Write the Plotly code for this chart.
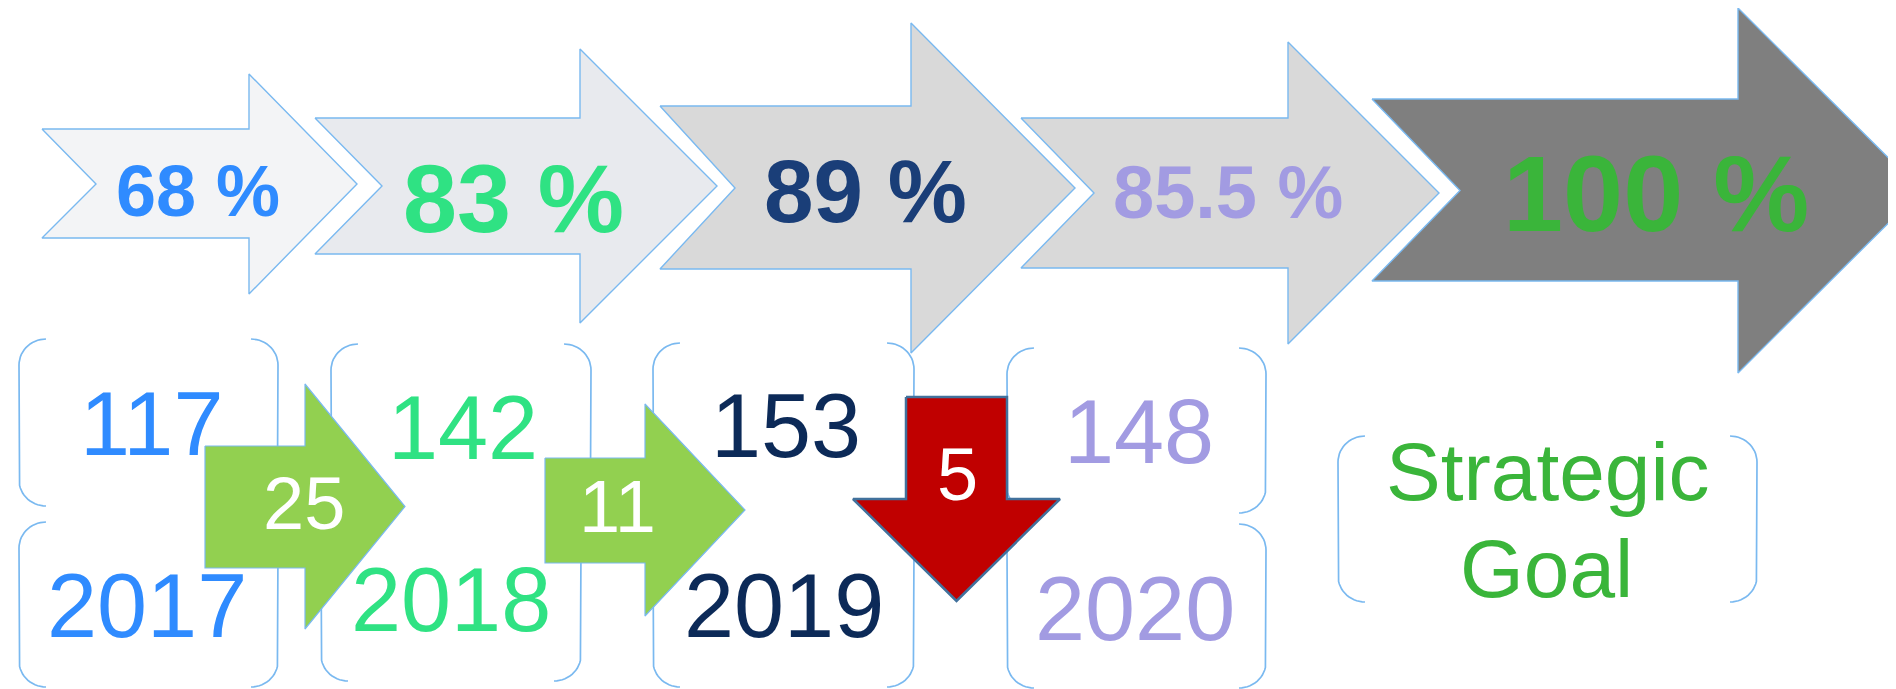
"""
Progress infographic - rates per year with counts and changes, drawn with Plotly
"""

import numpy as np
import plotly.graph_objects as go

# ─── data ───────────────────────────────────────
years = ["2017", "2018", "2019", "2020"]
counts = [117, 142, 153, 148]
changes = [25, 11, -5]
rates = [68, 83, 89, 85.5, 100]
goal_lines = ["Strategic", "Goal"]

# ─── styles ─────────────────────────────────────
stage_colors = ["#2F8BFF", "#2FE283", "#1A3E78", "#A29BE2", "#3AB53A"]
count_colors = ["#2F8BFF", "#2FE283", "#0C2A58", "#A29BE2"]
chevron_fills = ["#F3F4F6", "#E8EAEE", "#D9D9D9", "#D9D9D9", "#7F7F7F"]
edge_blue = "#7AB9F0"
FONT = "Liberation Sans, Arial, sans-serif"

W, H = 1896, 689
DX, DY = 7, 7  # small view offset of the layout grid

# chevron geometry: tail x, notch x, head x, tip x, body top, body bottom, head top, head bottom
chevrons = [
    (41, 95, 248, 356, 128, 237, 73, 293),
    (314, 381, 579, 716, 117, 253, 48, 322),
    (659, 734, 910, 1074, 105, 268, 22, 352),
    (1020, 1093, 1287, 1438, 117, 267, 41, 343),
    (1371, 1459, 1737, 1920, 98, 280, 7, 372),
]
rate_pos = [(197, 190, 72), (512, 197, 97), (864, 190, 89), (1227, 191, 74), (1655, 192, 108)]

# bracket boxes (left, right, top, bottom): counts row and years row
count_boxes = [(18, 277, 338, 505), (330, 590, 343, 512), (652, 913, 342, 507), (1006, 1265, 347, 512)]
year_boxes = [(18, 277, 521, 686), (320, 580, 520, 680), (652, 913, 521, 686), (1006, 1265, 523, 687)]
goal_box = (1337, 1756, 435, 601)
count_pos = [(150, 423), (462, 427), (785, 425), (1138, 431)]
year_pos = [(146, 605), (450, 599), (783, 605), (1134, 608)]
goal_pos = [(1547, 470), (1545, 567)]

# change arrows: right arrows (body left, head x, tip x, body top, body bottom, head top, head bottom)
up_arrows = [
    (204, 304, 404, 445, 567, 383, 628),
    (544, 644, 744, 457, 562, 403, 615),
]
# down arrow: body left, body right, body top, head y, head left, head right, tip y
down_arrow = (905, 1006, 396, 498, 852, 1059, 600)
change_pos = [(303, 502), (616, 505), (956, 473)]


def chevron_xy(g):
    xl, xn, xh, xt, bt, bb, ht, hb = g
    yc = (ht + hb) / 2
    xs = [xl, xh, xh, xt, xh, xh, xl, xn, xl]
    ys = [bt, bt, ht, yc, hb, bb, bb, yc, bt]
    return xs, ys


def right_arrow_xy(g):
    xl, xh, xt, bt, bb, ht, hb = g
    yc = (ht + hb) / 2
    xs = [xl, xh, xh, xt, xh, xh, xl, xl]
    ys = [bt, bt, ht, yc, hb, bb, bb, bt]
    return xs, ys


def down_arrow_xy(g):
    bl, br, bt, hy, hl, hr, ty = g
    xc = (hl + hr) / 2
    xs = [bl, br, br, hr, xc, hl, bl, bl]
    ys = [bt, bt, hy, hy, ty, hy, hy, bt]
    return xs, ys


def bracket_xy(box, rx=27, ry=26):
    L, R, T, B = box
    t1 = np.linspace(-np.pi / 2, -np.pi, 16)
    t2 = np.linspace(np.pi, np.pi / 2, 16)
    lx = np.concatenate([L + rx + rx * np.cos(t1), L + rx + rx * np.cos(t2)])
    ly = np.concatenate([T + ry + ry * np.sin(t1), B - ry + ry * np.sin(t2)])
    t3 = np.linspace(-np.pi / 2, 0, 16)
    t4 = np.linspace(0, np.pi / 2, 16)
    rxs = np.concatenate([R - rx + rx * np.cos(t3), R - rx + rx * np.cos(t4)])
    rys = np.concatenate([T + ry + ry * np.sin(t3), B - ry + ry * np.sin(t4)])
    return list(lx) + [None] + list(rxs), list(ly) + [None] + list(rys)


fig = go.Figure()

# ─── rate chevrons ──────────────────────────────
for g, fill in zip(chevrons, chevron_fills):
    xs, ys = chevron_xy(g)
    fig.add_trace(go.Scatter(
        x=xs, y=ys, mode="lines", fill="toself", fillcolor=fill,
        line=dict(color=edge_blue, width=1.4), hoverinfo="skip",
    ))

# ─── bracket boxes ──────────────────────────────
for box in count_boxes + year_boxes + [goal_box]:
    xs, ys = bracket_xy(box)
    fig.add_trace(go.Scatter(
        x=xs, y=ys, mode="lines",
        line=dict(color=edge_blue, width=1.7), hoverinfo="skip",
    ))

# ─── change arrows ──────────────────────────────
for g in up_arrows:
    xs, ys = right_arrow_xy(g)
    fig.add_trace(go.Scatter(
        x=xs, y=ys, mode="lines", fill="toself", fillcolor="#92D050",
        line=dict(color=edge_blue, width=1.2), hoverinfo="skip",
    ))
xs, ys = down_arrow_xy(down_arrow)
fig.add_trace(go.Scatter(
    x=xs, y=ys, mode="lines", fill="toself", fillcolor="#C00000",
    line=dict(color="#41719C", width=2.5), hoverinfo="skip",
))

# ─── texts ──────────────────────────────────────
annotations = []
for r, (x, y, size), color in zip(rates, rate_pos, stage_colors):
    annotations.append(dict(
        x=x, y=y, text=f"<b>{r:g} %</b>", showarrow=False,
        font=dict(family=FONT, size=size, color=color),
    ))
for c, (x, y), color in zip(counts, count_pos, count_colors):
    annotations.append(dict(
        x=x, y=y, text=str(c), showarrow=False,
        font=dict(family=FONT, size=90, color=color),
    ))
for yr, (x, y), color in zip(years, year_pos, count_colors):
    annotations.append(dict(
        x=x, y=y, text=yr, showarrow=False,
        font=dict(family=FONT, size=90, color=color),
    ))
for ch, (x, y) in zip(changes, change_pos):
    annotations.append(dict(
        x=x, y=y, text=str(abs(ch)), showarrow=False,
        font=dict(family=FONT, size=74, color="white"),
    ))
for line, (x, y) in zip(goal_lines, goal_pos):
    annotations.append(dict(
        x=x, y=y, text=line, showarrow=False,
        font=dict(family=FONT, size=82, color=stage_colors[4]),
    ))

fig.update_layout(
    width=W, height=H, autosize=False,
    margin=dict(l=0, r=0, t=0, b=0),
    paper_bgcolor="white", plot_bgcolor="white",
    showlegend=False,
    annotations=annotations,
    xaxis=dict(range=[DX, W + DX], visible=False, fixedrange=True),
    yaxis=dict(range=[H + DY, DY], visible=False, fixedrange=True),
)

fig.write_html("out.html")
